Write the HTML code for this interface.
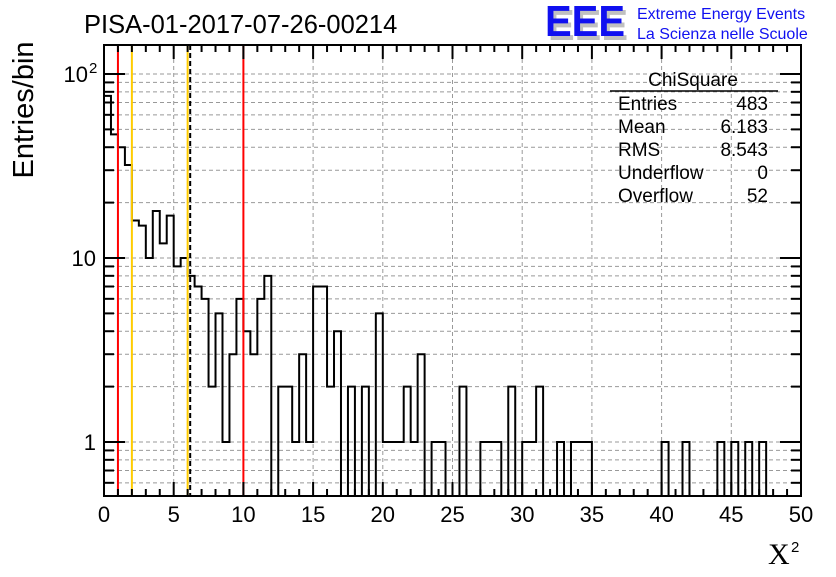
<!DOCTYPE html>
<html><head><meta charset="utf-8"><style>
body{margin:0;background:#fff;}
svg text{font-family:"Liberation Sans",sans-serif;}
</style></head><body>
<svg id="chart" width="836" height="572" xmlns="http://www.w3.org/2000/svg">
<rect width="836" height="572" fill="#fff"/>
<g id="grid"></g>
<g id="marks"></g>
<g id="axes"></g>
<text x="84" y="33" font-size="25.5">PISA-01-2017-07-26-00214</text>
<g>
<text x="548" y="40" font-size="44" font-weight="bold" fill="#c0c0c0" textLength="80" lengthAdjust="spacingAndGlyphs">EEE</text>
<text x="545" y="36" font-size="44" font-weight="bold" fill="#1010f0" textLength="80" lengthAdjust="spacingAndGlyphs">EEE</text>
<text x="637" y="19" font-size="16" fill="#1010f0">Extreme Energy Events</text>
<text x="637" y="39" font-size="16" fill="#1010f0">La Scienza nelle Scuole</text>
</g>
<g font-size="19">
<text x="693" y="86" text-anchor="middle">ChiSquare</text>
<line x1="610" y1="91" x2="778" y2="91" stroke="#000" stroke-width="1.5"/>
<text x="618" y="110">Entries</text><text x="768" y="110" text-anchor="end">483</text>
<text x="618" y="133">Mean</text><text x="768" y="133" text-anchor="end">6.183</text>
<text x="618" y="156">RMS</text><text x="768" y="156" text-anchor="end">8.543</text>
<text x="618" y="179">Underflow</text><text x="768" y="179" text-anchor="end">0</text>
<text x="618" y="202">Overflow</text><text x="768" y="202" text-anchor="end">52</text>
</g>
<text transform="translate(33,110) rotate(-90)" font-size="29" text-anchor="middle">Entries/bin</text>
<text x="768" y="564" font-size="30" style="font-family:'Liberation Serif',serif">X</text>
<text x="791" y="552" font-size="15">2</text>
</svg>
<script>
const binWidth = 0.5;
const counts = [76,47,40,32,16,15,10,18,12,17,9,10,8,7,6,2,5,1,3,6,4,3,6,8,
0,2,2,1,3,1,7,7,2,4,0,2,0,2,0,5,1,1,1,2,1,3,0,1,1,0,0,2,0,0,1,1,1,0,2,0,1,1,2,0,0,1,0,1,1,1,
0,0,0,0,0,0,0,0,0,0,1,0,0,1,0,0,0,0,1,0,1,0,1,0,1,0,0,0,0,0];
const xTicks = [0,5,10,15,20,25,30,35,40,45,50];
const yDecades = [1,10,100];
const yLabels = ["1","10","10"];
const refLines = [{v:1,c:"#ff0000",d:""},{v:2,c:"#ffcc00",d:""},{v:6,c:"#ffcc00",d:""},{v:6.183,c:"#000",d:"5,3"},{v:10,c:"#ff0000",d:""}];

const L=104,R=801,T=45,B=496;
const X=v=>L+(v/50)*(R-L);
const Y=v=>442-Math.log10(v)*184;
const NS="http://www.w3.org/2000/svg";
function mk(parent,tag,attrs){const e=document.createElementNS(NS,tag);for(const k in attrs)e.setAttribute(k,attrs[k]);document.getElementById(parent).appendChild(e);return e;}

for(let d=1;d<=100;d*=10){for(let m=1;m<=9;m++){const v=d*m;const y=Y(v);if(y<T||y>B)continue;
const g=mk("grid","line",{x1:L,x2:R,y1:y,y2:y,stroke:"#999",'stroke-dasharray':"4,3"});

}}
[0.6,0.7,0.8,0.9].forEach(v=>{const y=Y(v);const g=mk("grid","line",{x1:L,x2:R,y1:y,y2:y,stroke:"#999",'stroke-dasharray':"4,3"});

});
xTicks.forEach(t=>{const g=mk("grid","line",{x1:X(t),x2:X(t),y1:T,y2:B,stroke:"#999",'stroke-dasharray':"4,3"});

});

let d="";
counts.forEach((c,i)=>{const x0=X(i*binWidth),x1=X((i+1)*binWidth);const y=c>0?Y(c):B;
d+=(i===0?`M${x0},${y}`:`L${x0},${y}`)+`L${x1},${y}`;});
const h=mk("marks","path",{d:d,fill:"none",stroke:"#000","stroke-width":2});


refLines.forEach(r=>{const l=mk("marks","line",{x1:X(r.v),x2:X(r.v),y1:T,y2:B,stroke:r.c,"stroke-width":2,"stroke-dasharray":r.d});

});

const fr=mk("axes","rect",{x:L,y:T,width:R-L,height:B-T,fill:"none",stroke:"#000","stroke-width":2});


for(let v=0;v<=50;v++){const maj=v%5===0;const len=maj?14:7;
mk("axes","line",{x1:X(v),x2:X(v),y1:B,y2:B-len,stroke:"#000","stroke-width":2});
mk("axes","line",{x1:X(v),x2:X(v),y1:T,y2:T+len,stroke:"#000","stroke-width":2});}
xTicks.forEach(t=>{const tx=mk("axes","text",{x:X(t),y:522,"font-size":22,"text-anchor":"middle"});tx.textContent=t;

});
for(let d=0.1;d<=100;d*=10){for(let m=1;m<=9;m++){const v=d*m;const y=Y(v);if(y<T||y>B)continue;const maj=m===1;const len=maj?21:10;
mk("axes","line",{x1:L,x2:L+len,y1:y,y2:y,stroke:"#000","stroke-width":2});
mk("axes","line",{x1:R,x2:R-len,y1:y,y2:y,stroke:"#000","stroke-width":2});}}
yDecades.forEach((v,i)=>{const sup=i===2;const tx=mk("axes","text",{x:sup?88:96,y:Y(v)+8,"font-size":22,"text-anchor":"end"});
tx.textContent=yLabels[i];


if(sup){const s=mk("axes","text",{x:89,y:Y(v)-1,"font-size":15});s.textContent="2";}});
</script>
</body></html>
